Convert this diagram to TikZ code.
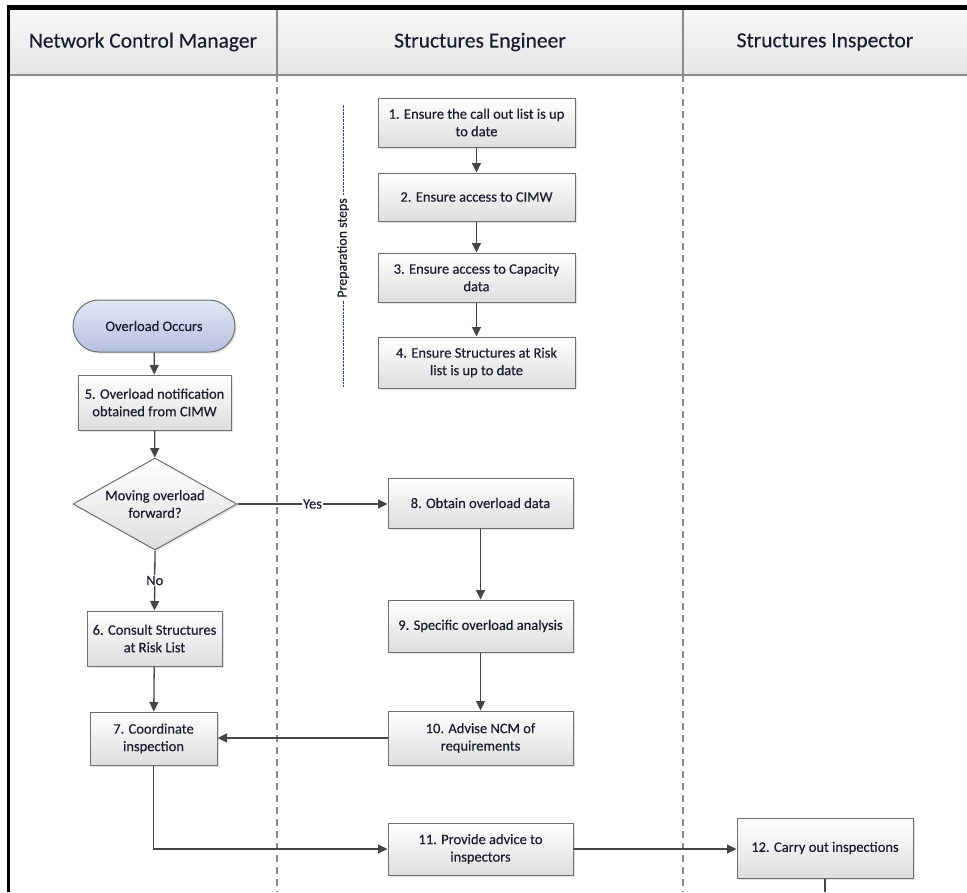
\documentclass[tikz,border=0pt]{standalone}
\usepackage{fontspec}
\setmainfont{Carlito}[FakeBold=0.3]
\newfontfamily\heavy{Carlito}[FakeBold=0.3]
\usetikzlibrary{arrows.meta,shapes.geometric,shadows}
\definecolor{txt}{HTML}{1A1D2E}
\definecolor{edgec}{HTML}{6E6E6E}
\definecolor{arr}{HTML}{454545}
\definecolor{lane}{HTML}{8A8A8A}
\definecolor{lavtop}{HTML}{E2E6F5}
\definecolor{lavbot}{HTML}{B7BFE0}
\definecolor{prep}{HTML}{2B3A8C}
\begin{document}
\begin{tikzpicture}[x=1pt,y=-1pt,
  stepbox/.style={draw=edgec, line width=1pt, top color=white, bottom color=black!13,
    font=\heavy\fontsize{14.5}{17.5}\selectfont, text=txt, align=center, inner sep=0pt,
    drop shadow={opacity=0.22, shadow xshift=1.6pt, shadow yshift=-1.6pt}},
  startbox/.style={stepbox, top color=lavtop, bottom color=lavbot, rounded corners=26pt},
  decbox/.style={stepbox, diamond, aspect=1.78},
  flow/.style={draw=arr, line width=1.3pt, -{Triangle[length=9.5pt,width=9pt]}},
  plainline/.style={draw=arr, line width=1.3pt},
  lbl/.style={fill=white, inner sep=1pt, font=\heavy\fontsize{14.5}{17.5}\selectfont, text=txt},
  head/.style={font=\heavy\fontsize{21.5}{25}\selectfont, text=txt},
  lanedash/.style={draw=lane, line width=1.2pt, dash pattern=on 7pt off 5pt}]
\useasboundingbox (0,0) rectangle (967,892);
\fill[white] (0,0) rectangle (967,892);
% header band
\shade[top color=black!3, bottom color=black!10] (9,9) rectangle (967,75);
\draw[lane, line width=1.5pt] (9,75) -- (967,75);
\draw[lane, line width=1.3pt] (277,9) -- (277,75);
\draw[lane, line width=1.3pt] (683,9) -- (683,75);
\draw[lanedash] (277,75) -- (277,892);
\draw[lanedash] (683,75) -- (683,892);
\draw[black, line width=4.5pt] (7,7.5) -- (967,7.5);
\draw[black, line width=3pt] (8.5,5.5) -- (8.5,892);
\node[head] (h1) at (143,42) {Network Control Manager};
\node[head] (h2) at (480,42) {Structures Engineer};
\node[head] (h3) at (825,42) {Structures Inspector};
% preparation steps
\draw[prep, line width=0.8pt, dash pattern=on 2.5pt off 1pt] (343,105) -- (343,387);
\node[fill=white, rotate=90, inner sep=2pt, font=\heavy\fontsize{14}{17}\selectfont, text=txt] (prep) at (343,248) {Preparation steps};
% nodes
\node[stepbox, minimum width=197pt, minimum height=49pt] (n1) at (476.5,122.5) {1. Ensure the call out list is up\\to date};
\node[stepbox, minimum width=197pt, minimum height=48pt] (n2) at (476.5,197) {2. Ensure access to CIMW};
\node[stepbox, minimum width=197pt, minimum height=49pt] (n3) at (476.5,277.5) {3. Ensure access to Capacity\\data};
\node[stepbox, minimum width=197pt, minimum height=51pt] (n4) at (476.5,362.5) {4. Ensure Structures at Risk\\list is up to date};
\node[startbox, minimum width=162pt, minimum height=52pt] (st) at (154,326) {Overload Occurs};
\node[stepbox, minimum width=153pt, minimum height=55pt] (n5) at (154.5,402.5) {5. Overload notification\\obtained from CIMW};
\node[decbox, minimum width=164pt, minimum height=92pt] (dec) at (155,504) {Moving overload\\forward?};
\node[stepbox, minimum width=135pt, minimum height=55pt] (n6) at (154.5,638.5) {6. Consult Structures\\at Risk List};
\node[stepbox, minimum width=127pt, minimum height=53pt] (n7) at (153.5,738.5) {7. Coordinate\\inspection};
\node[stepbox, minimum width=185pt, minimum height=50pt] (n8) at (480.5,503) {8. Obtain overload data};
\node[stepbox, minimum width=185pt, minimum height=52pt] (n9) at (480.5,626) {9. Specific overload analysis};
\node[stepbox, minimum width=185pt, minimum height=54pt] (n10) at (480.5,738) {10. Advise NCM of\\requirements};
\node[stepbox, minimum width=185pt, minimum height=52pt] (n11) at (480.5,849) {11. Provide advice to\\inspectors};
\node[stepbox, minimum width=176pt, minimum height=60pt] (n12) at (825,848) {12. Carry out inspections};
\coordinate (out12) at (825,892);
% connectors
\draw[flow] (n1) -- (n2);
\draw[flow] (n2) -- (n3);
\draw[flow] (n3) -- (n4);
\draw[flow] (st) -- (n5);
\draw[flow] (n5) -- (dec);
\draw[flow] (dec.south) -- node[lbl] {No} (n6.north);
\draw[flow] (dec.east) -- node[lbl] {Yes} (n8.west |- dec.east);
\draw[flow] (n6) -- (n7);
\draw[flow] (n8) -- (n9);
\draw[flow] (n9) -- (n10);
\draw[flow] (n10.west) -- (n7.east |- n10.west);
\draw[flow] (n7.south) |- (n11.west);
\draw[flow] (n11.east) -- (n12.west |- n11.east);
\draw[plainline] (n12.south) -- (out12);
\end{tikzpicture}
\end{document}
